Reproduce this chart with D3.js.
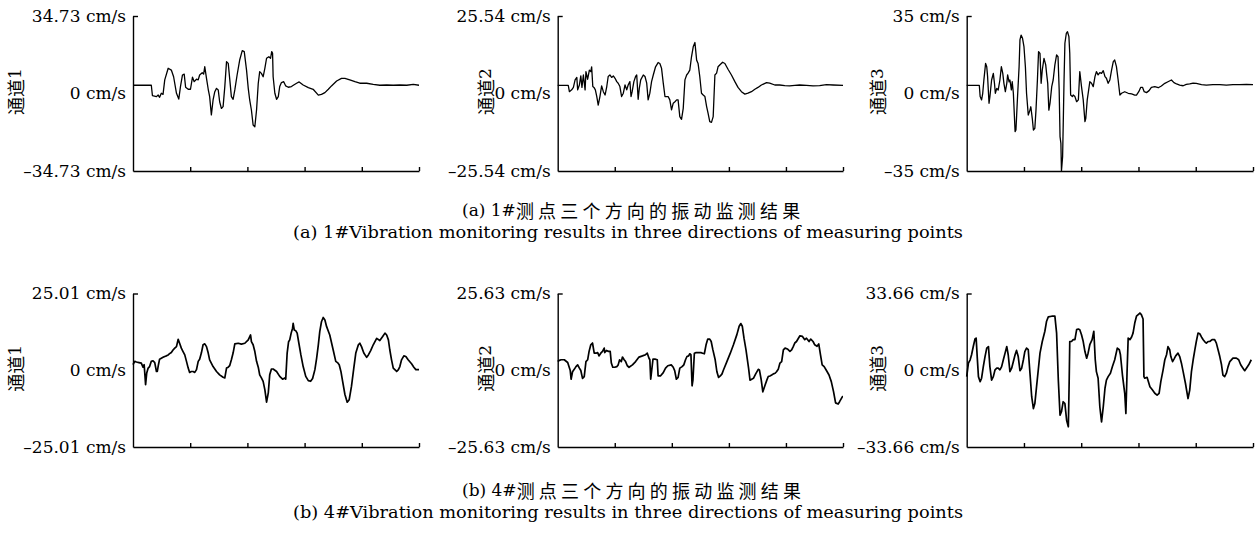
<!DOCTYPE html>
<html>
<head>
<meta charset="utf-8">
<script src="https://cdn.jsdelivr.net/npm/d3@7"></script>
<style>
  body { margin: 0; background: #fff; }
  svg { display: block; }
  text { font-family: "DejaVu Serif", "Noto Sans CJK SC", serif; fill: #000; }
</style>
</head>
<body>
<div id="wrapper"></div>
<script>
// time axis is 0..100 (% of record), velocity in cm/s

// (a) 1# measuring point
const p1Ch1 = [[0,3.7],[6.4,3.7],[6.8,-1.0],[8.2,-1.4],[8.8,-0.7],[9.3,-1.7],[9.9,0.1],[10.5,-0.4],[11.1,6.1],[12.3,11.3],[13.4,10.5],[14.2,7.5],[15.2,0.1],[16.0,-2.5],[16.6,3.1],[17.3,8.3],[17.9,8.7],[18.4,2.8],[19.3,1.9],[20.1,1.9],[20.8,7.3],[21.4,5.3],[22.2,6.4],[22.8,6.1],[23.3,8.3],[24.2,9.3],[24.7,8.7],[25.1,12.0],[25.7,6.8],[26.3,1.9],[26.8,-1.4],[27.4,-9.6],[28.0,-2.9],[28.6,0.8],[29.2,2.3],[29.8,1.6],[30.3,-3.7],[30.9,-6.7],[31.5,-5.9],[32.1,3.1],[32.7,14.3],[33.3,13.5],[33.8,6.8],[34.4,-1.4],[35.0,-2.6],[35.6,1.6],[36.4,8.3],[37.3,15.0],[38.2,19.2],[38.9,18.8],[39.7,10.5],[40.3,2.3],[40.8,-2.9],[41.4,-7.4],[42.0,-14.1],[42.6,-14.9],[43.2,-7.4],[43.8,4.6],[44.3,9.8],[44.9,9.0],[45.5,7.5],[46.1,11.3],[46.7,15.8],[47.5,16.5],[48.1,15.8],[48.5,18.8],[48.8,18.0],[49.0,7.5],[49.6,0.1],[50.2,-2.6],[50.8,-1.4],[51.3,3.1],[51.9,4.9],[52.7,5.3],[53.4,3.4],[54.3,2.8],[55.4,3.1],[56.2,3.8],[57.2,4.6],[58.1,5.2],[59.5,3.8],[61.3,2.6],[63.0,1.9],[64.8,-0.7],[65.9,-0.4],[67.1,0.4],[68.3,1.9],[69.4,3.4],[71.2,5.6],[72.9,6.8],[74.1,6.8],[75.8,6.1],[77.6,5.3],[79.3,4.6],[81.7,4.6],[84.0,4.1],[86.3,3.7],[88.7,3.8],[91.0,3.7],[93.3,3.8],[95.7,3.7],[98.0,4.1],[100,3.7]];

const p1Ch2 = [[0,2.7],[3.7,2.7],[4.1,0.6],[4.9,1.2],[5.5,2.0],[6.1,4.5],[6.7,5.3],[7.0,1.2],[7.6,2.8],[8.1,5.8],[8.5,2.0],[9.0,6.1],[9.6,1.2],[9.9,7.2],[10.5,4.7],[11.1,7.7],[11.6,7.2],[11.9,8.8],[12.3,2.3],[12.7,2.0],[13.2,1.2],[13.7,-1.0],[14.2,-3.8],[14.8,-1.0],[15.4,2.5],[16.0,0.6],[16.6,-0.5],[17.2,2.3],[17.7,5.6],[18.3,6.1],[18.9,5.3],[19.5,5.8],[20.1,5.0],[20.7,3.9],[21.2,3.4],[21.8,2.3],[22.4,-1.0],[23.0,0.1],[23.6,2.8],[24.2,1.2],[24.7,2.8],[25.3,3.9],[25.7,-1.0],[26.1,0.6],[26.7,3.9],[27.3,5.6],[27.7,6.1],[28.2,-1.9],[28.6,1.7],[29.1,4.5],[30.0,6.1],[30.6,5.6],[31.2,3.4],[31.7,-2.1],[32.3,0.1],[32.9,3.9],[33.5,6.1],[34.3,8.8],[35.2,10.2],[35.8,9.9],[36.4,8.3],[37.0,3.4],[37.6,-1.0],[38.2,-1.0],[38.7,-1.0],[39.3,-2.1],[39.9,-5.4],[40.5,-3.2],[41.1,-2.7],[41.7,-2.1],[42.2,-2.1],[42.8,-7.6],[43.4,-8.5],[44.0,-4.9],[44.6,4.5],[45.2,6.1],[45.7,6.7],[46.3,7.7],[46.9,12.1],[47.5,15.4],[48.1,16.8],[48.7,11.0],[49.2,9.9],[49.8,5.6],[50.4,0.1],[51.0,-0.5],[51.6,-1.0],[52.2,-4.3],[52.7,-6.5],[53.3,-9.3],[53.9,-9.5],[54.5,-7.6],[55.1,6.1],[55.7,6.7],[56.2,8.8],[56.8,9.4],[57.8,10.3],[58.6,9.9],[59.7,8.0],[60.9,6.1],[62.1,3.9],[63.2,2.0],[64.4,0.6],[65.6,-0.2],[66.7,0.1],[67.9,0.6],[69.1,1.4],[70.2,2.0],[71.4,2.8],[73.2,3.6],[74.3,3.4],[76.1,2.8],[77.8,2.8],[79.6,2.6],[81.3,2.5],[83.1,2.7],[84.8,2.8],[87.2,2.7],[89.5,2.5],[91.8,2.6],[94.2,2.9],[96.5,2.8],[100,2.7]];

const p1Ch3 = [[0,3.7],[4.4,3.7],[4.7,-1.4],[5.2,-2.9],[5.6,0.1],[6.0,6.1],[6.6,13.6],[7.0,12.1],[7.3,7.6],[7.8,-4.4],[8.1,-1.4],[8.7,6.1],[9.3,9.1],[9.7,4.6],[10.0,0.1],[10.5,2.3],[11.0,1.6],[11.6,6.1],[12.1,12.1],[12.6,9.1],[13.0,4.6],[13.5,0.8],[14.0,4.6],[14.3,8.4],[14.8,5.3],[15.1,6.1],[15.6,1.6],[15.9,5.3],[16.3,0.1],[16.9,-17.2],[17.2,-16.5],[17.7,-2.9],[18.3,12.1],[18.6,24.2],[19.0,26.4],[19.5,24.9],[20.0,21.2],[20.5,12.1],[20.9,0.1],[21.5,-9.7],[22.1,-7.5],[22.4,-6.0],[22.9,-11.2],[23.3,-16.5],[23.8,-15.7],[24.2,-7.5],[24.7,6.1],[25.1,18.9],[25.6,18.1],[26.0,4.6],[26.4,10.6],[27.0,15.9],[27.6,12.9],[27.9,9.1],[28.3,4.6],[28.7,-7.5],[29.1,-4.4],[29.7,3.1],[30.2,6.1],[30.8,12.9],[31.4,17.4],[31.9,16.6],[32.3,1.6],[32.6,-19.5],[32.9,-22.5],[33.1,-35],[33.5,-28.5],[33.7,-15.0],[34.0,6.1],[34.3,22.7],[34.8,27.2],[35.2,27.9],[35.7,25.7],[36.0,18.1],[36.3,-0.7],[36.9,-1.4],[37.2,-0.7],[37.8,-1.4],[38.4,-3.7],[39.0,-2.9],[39.5,9.9],[40.1,3.1],[40.7,-2.9],[41.3,-12.7],[41.6,-11.2],[42.1,-2.9],[42.6,1.6],[43.0,5.3],[43.6,4.6],[44.2,3.1],[44.8,7.6],[45.3,9.9],[45.9,8.4],[46.5,9.4],[47.1,9.1],[47.7,10.3],[48.3,7.6],[48.8,6.9],[49.4,4.6],[50.0,6.1],[50.6,10.6],[51.2,14.4],[51.7,15.1],[52.3,12.1],[52.9,6.1],[53.5,-0.7],[54.1,0.1],[55.2,0.8],[56.4,0.1],[57.6,-0.2],[58.7,-0.7],[59.3,-0.7],[60.1,0.8],[60.8,2.8],[61.4,2.8],[62.0,0.8],[62.8,0.4],[63.7,1.3],[64.5,2.8],[65.7,3.1],[66.9,2.6],[68.0,3.4],[69.2,4.6],[70.3,5.3],[71.5,6.1],[72.4,4.9],[73.3,4.3],[74.4,3.8],[75.6,3.5],[76.7,4.1],[77.9,4.3],[79.1,4.7],[80.2,4.6],[82.0,4.0],[83.7,3.8],[86.0,4.0],[88.4,4.0],[90.7,3.8],[93.0,4.0],[95.3,4.0],[97.7,4.1],[100,4.0]];

// (b) 4# measuring point
const p4Ch1 = [[0,1.8],[0.6,2.9],[1.2,2.7],[2.1,2.5],[2.9,2.3],[3.5,1.0],[3.9,1.8],[4.2,-2.0],[4.4,-4.7],[4.8,-0.9],[5.3,0.7],[5.8,1.2],[6.4,2.9],[7.0,3.1],[7.6,2.5],[8.2,-0.4],[8.5,-0.4],[8.9,1.8],[9.3,3.6],[9.9,3.9],[10.5,4.2],[11.1,4.5],[11.7,4.7],[12.3,5.0],[12.8,5.4],[13.4,5.8],[14.0,6.6],[14.6,7.2],[15.2,7.7],[15.8,10.1],[16.3,8.8],[16.9,7.2],[17.5,6.1],[18.1,5.0],[18.7,2.9],[19.3,0.7],[19.8,-0.7],[20.4,-0.4],[21.0,-0.4],[21.6,-0.7],[22.2,0.2],[22.8,2.9],[23.3,3.6],[23.9,5.6],[24.5,8.3],[25.1,8.6],[25.7,7.7],[26.3,5.6],[26.8,3.4],[28.0,1.2],[29.2,-0.4],[30.3,-1.5],[31.5,-2.3],[32.1,-2.5],[32.7,0.7],[33.3,1.0],[33.8,1.5],[34.4,3.4],[35.0,5.6],[35.6,8.6],[36.8,8.8],[37.9,8.5],[39.1,8.8],[40.3,9.9],[41.1,11.5],[41.4,9.3],[42.0,8.3],[42.6,6.1],[43.2,2.9],[43.8,1.0],[44.3,-1.5],[44.9,-2.5],[45.5,-3.6],[46.1,-6.3],[46.7,-10.4],[47.3,-7.4],[47.8,-1.5],[48.4,0.4],[49.0,0.4],[49.6,0.0],[50.2,-0.4],[51.3,-2.0],[52.3,-2.9],[53.1,-2.5],[53.4,-2.9],[53.9,5.6],[54.4,9.3],[54.8,9.9],[55.3,12.1],[55.8,13.7],[56.0,15.3],[56.4,13.1],[56.9,12.9],[57.4,12.1],[58.0,8.8],[58.7,5.0],[59.5,1.2],[60.4,-2.0],[61.3,-3.4],[62.1,-3.6],[62.8,-2.7],[63.6,0.2],[64.2,3.9],[64.8,8.3],[65.3,12.6],[65.9,15.8],[66.5,17.2],[67.1,16.4],[67.7,14.2],[68.8,11.5],[70.0,6.6],[70.9,2.9],[71.5,2.5],[72.1,1.8],[72.7,-0.4],[73.3,-3.6],[74.1,-7.9],[74.9,-10.4],[75.6,-9.6],[76.4,-5.2],[77.2,0.7],[77.9,5.6],[78.8,8.3],[79.3,8.8],[79.9,7.7],[80.7,5.6],[81.7,4.2],[82.3,5.0],[83.1,6.4],[84.0,8.3],[85.2,10.4],[86.3,9.7],[87.3,11.0],[88.1,12.1],[88.7,11.5],[89.3,9.9],[89.8,6.6],[90.4,3.4],[91.0,0.7],[92.2,-0.4],[92.8,0.2],[93.3,1.2],[93.9,3.4],[94.7,4.7],[95.4,4.5],[96.2,3.4],[97.4,2.1],[98.2,1.0],[98.9,0.2],[100,0.2]];

const p4Ch2 = [[0,2.9],[0.6,3.3],[1.2,3.5],[2.3,3.5],[3.5,2.6],[4.4,-0.1],[4.7,-3.0],[5.2,-0.5],[5.8,0.3],[6.4,1.2],[7.0,1.8],[7.6,0.7],[8.1,-0.1],[8.7,-2.7],[9.3,-2.1],[9.9,2.9],[10.5,3.5],[11.0,6.3],[11.6,8.5],[12.2,9.1],[12.8,5.7],[13.4,5.7],[14.0,5.9],[14.5,4.8],[15.1,5.7],[15.7,6.3],[16.3,7.4],[16.5,5.9],[17.1,6.6],[17.8,6.3],[18.4,6.3],[18.8,2.4],[19.3,1.0],[20.0,1.0],[20.7,1.2],[21.2,1.8],[21.7,3.5],[22.3,2.9],[22.7,4.4],[23.3,3.5],[23.8,2.9],[24.4,1.5],[25.0,1.0],[26.2,1.8],[27.3,2.9],[28.5,4.4],[29.7,4.8],[30.8,5.2],[31.4,5.7],[32.0,4.0],[32.3,3.5],[32.6,-3.0],[32.9,-0.5],[33.4,3.7],[34.1,3.7],[34.9,3.5],[35.2,-1.9],[36.0,-1.9],[37.0,-0.8],[37.8,0.7],[38.6,1.5],[39.8,1.8],[40.5,1.0],[41.0,-0.1],[41.6,-3.0],[42.2,-2.4],[42.8,0.7],[43.6,1.2],[44.2,1.8],[44.8,3.5],[45.3,4.6],[45.9,4.8],[46.3,5.5],[46.7,5.2],[47.1,-5.2],[47.4,-3.3],[47.9,5.7],[48.5,5.9],[49.4,5.9],[50.2,5.9],[50.8,5.7],[51.4,5.5],[52.0,8.5],[52.6,10.4],[53.3,10.4],[53.8,9.6],[54.4,6.8],[55.2,3.5],[55.8,-0.5],[56.4,-2.4],[57.0,-1.9],[57.6,-1.2],[58.1,0.1],[59.3,2.9],[60.5,5.7],[61.6,8.5],[62.8,11.9],[63.6,14.7],[64.2,15.6],[64.7,14.7],[65.3,10.7],[66.0,6.8],[66.9,0.7],[67.4,-3.3],[68.0,-3.0],[68.6,-2.7],[69.4,-1.2],[70.3,0.3],[70.7,0.1],[71.3,-3.0],[71.9,-7.2],[72.7,-4.9],[73.3,-3.3],[73.8,-2.1],[74.4,-1.9],[75.0,-1.6],[75.6,-1.2],[76.2,-1.0],[76.7,-0.5],[77.3,0.3],[77.9,2.4],[78.5,2.9],[79.1,6.8],[79.7,7.4],[80.5,7.1],[81.4,6.3],[82.0,6.8],[82.6,8.0],[83.1,9.1],[83.7,9.6],[84.9,11.5],[85.8,11.3],[86.6,10.2],[87.2,10.7],[88.1,9.6],[88.7,10.4],[89.5,9.6],[90.1,8.5],[90.9,8.0],[91.5,8.8],[92.1,5.2],[92.7,1.8],[93.4,1.2],[94.2,-0.1],[95.1,-1.6],[95.9,-3.8],[96.7,-7.2],[97.4,-10.9],[98.3,-11.3],[98.8,-10.5],[99.8,-8.8],[100,-8.8]];

const p4Ch3 = [[0,-2.8],[0.6,3.1],[1.2,4.6],[1.7,6.8],[2.3,10.4],[2.9,13.7],[3.3,14.1],[3.7,5.3],[4.1,-2.8],[4.7,-5.0],[5.2,-3.5],[5.8,1.6],[6.4,6.0],[7.0,9.7],[7.6,10.4],[8.1,1.6],[8.7,-4.3],[9.3,-2.8],[9.9,0.2],[10.5,0.9],[11.0,0.9],[11.6,0.2],[12.2,1.6],[12.8,4.6],[13.4,7.5],[14.0,10.4],[14.5,6.8],[15.1,-0.6],[15.7,0.9],[16.3,3.8],[16.9,6.8],[17.4,8.7],[18.0,6.0],[18.6,-0.2],[19.2,0.9],[19.8,4.6],[20.3,8.2],[20.9,9.7],[21.5,9.0],[22.1,-1.3],[22.7,-11.6],[23.3,-16.8],[23.8,-14.6],[24.4,-7.2],[25.0,0.2],[25.6,7.5],[26.4,12.6],[27.3,17.1],[27.9,21.5],[28.5,23.4],[29.7,23.7],[30.8,23.7],[31.4,16.3],[32.0,-4.3],[32.6,-19.7],[33.1,-18.2],[33.7,-13.8],[34.3,-14.6],[34.9,-21.9],[35.5,-24.8],[35.8,-4.3],[36.0,12.6],[36.6,12.6],[37.2,13.4],[37.8,13.4],[38.4,17.8],[39.0,18.1],[39.5,17.8],[40.1,15.6],[40.7,12.6],[41.3,8.2],[41.9,5.3],[42.4,7.5],[43.0,11.2],[43.8,13.4],[44.4,17.1],[44.9,4.6],[45.3,-0.6],[45.9,-3.5],[46.5,-16.0],[47.1,-22.6],[47.7,-16.0],[48.3,-7.9],[48.8,-4.3],[49.4,-2.8],[50.2,-1.3],[50.9,1.6],[51.7,4.6],[52.6,9.7],[53.3,9.0],[53.7,6.8],[54.4,-2.1],[55.2,-10.1],[55.6,-19.0],[56.0,-1.3],[56.4,14.1],[57.0,13.4],[57.6,14.6],[58.1,16.3],[58.7,20.7],[59.3,23.7],[59.9,24.4],[60.5,25.1],[61.0,24.4],[61.6,22.5],[61.9,-2.8],[62.2,-3.5],[63.0,-3.1],[64.0,-7.2],[64.9,-8.7],[65.7,-10.1],[66.5,-10.9],[67.2,-10.1],[67.8,-5.0],[68.6,0.2],[69.2,4.6],[69.8,6.8],[70.3,10.4],[70.9,9.0],[71.3,6.0],[71.9,3.8],[72.4,4.9],[73.0,6.3],[73.8,7.5],[74.4,6.0],[75.0,3.1],[75.6,-0.6],[76.4,-5.7],[77.3,-12.4],[77.9,-8.7],[78.5,-0.6],[79.1,4.6],[79.7,9.0],[80.2,12.6],[80.8,16.3],[81.4,16.0],[82.0,14.6],[82.6,13.4],[83.1,12.6],[83.7,11.9],[84.3,12.6],[84.9,12.6],[85.7,13.4],[86.6,13.4],[87.2,11.9],[87.8,9.0],[88.4,6.0],[89.0,2.4],[89.5,-2.1],[90.1,-2.8],[90.7,-1.3],[91.3,1.6],[91.9,3.8],[93.0,5.3],[94.2,5.3],[95.0,4.6],[95.7,2.4],[96.5,0.9],[97.1,-0.2],[97.7,0.9],[98.5,2.4],[99.4,4.6]];

const channelNames = ["通道", "通道", "通道"];
const channelNums = ["1", "2", "3"];
const row1Max = [34.73, 25.54, 35];
const row4Max = [25.01, 25.63, 33.66];
const row1Series = [p1Ch1, p1Ch2, p1Ch3];
const row4Series = [p4Ch1, p4Ch2, p4Ch3];
const captionsPrefix = ["(a) 1#", "(b) 4#"];
const captionsCn = ["测点三个方向的振动监测结果", "测点三个方向的振动监测结果"];
const captionsEn = [
  "(a) 1#Vibration monitoring results in three directions of measuring points",
  "(b) 4#Vibration monitoring results in three directions of measuring points",
];
const xTicks = [20, 40, 60, 80, 100];

// layout
const width = 1259;
const height = 534;
const rows = [
  { top: 16, bottom: 171, maxes: row1Max, series: row1Series, capCn: 209.5, capEn: 232 },
  { top: 293.5, bottom: 447, maxes: row4Max, series: row4Series, capCn: 489.5, capEn: 512 },
];
const cols = [
  { left: 133, right: 419, labelX: 15 },
  { left: 557.7, right: 843, labelX: 485 },
  { left: 966.7, right: 1253, labelX: 877 },
];

const svg = d3.select("#wrapper")
  .append("svg")
  .attr("width", width)
  .attr("height", height)

const fmt = v => (v < 0 ? "\u2013" : "") + Math.abs(v) + " cm/s"

rows.forEach((row, ri) => {
  cols.forEach((col, ci) => {
    const max = row.maxes[ci]
    const data = row.series[ci]

    const xScale = d3.scaleLinear()
      .domain([0, 100])
      .range([col.left, col.right])

    const yScale = d3.scaleLinear()
      .domain([-max, max])
      .range([row.bottom, row.top])

    const g = svg.append("g")

    // x axis, ticks pointing up
    g.append("g")
      .attr("transform", `translate(0,${row.bottom})`)
      .call(d3.axisBottom(xScale)
        .tickValues(xTicks)
        .tickSizeInner(-4)
        .tickSizeOuter(0)
        .tickFormat(""))
      .call(a => a.selectAll("path, line").attr("stroke", "#000").attr("stroke-width", 1.4))

    // y axis, only the top tick drawn (to the right)
    g.append("g")
      .attr("transform", `translate(${col.left},0)`)
      .call(d3.axisLeft(yScale)
        .tickValues([max, 0, -max])
        .tickSize(0)
        .tickPadding(7)
        .tickFormat(fmt))
      .call(a => a.selectAll("path, line").attr("stroke", "#000").attr("stroke-width", 1.4))
      .call(a => a.selectAll(".tick line").attr("x2", d => d === max ? 5 : 0))
      .call(a => a.selectAll("text")
        .attr("font-family", "DejaVu Serif")
        .attr("font-size", 17)
        .attr("fill", "#000"))

    const lbl = g.append("text")
      .attr("transform", `translate(${col.labelX},${(row.top + row.bottom) / 2 - 2}) rotate(-90)`)
      .attr("text-anchor", "middle")
      .attr("dominant-baseline", "central")
    lbl.append("tspan")
      .attr("font-family", "Noto Sans CJK SC")
      .attr("font-size", 18)
      .text(channelNames[ci])
    lbl.append("tspan")
      .attr("font-size", 17)
      .text(channelNums[ci])

    const line = d3.line()
      .x(d => xScale(d[0]))
      .y(d => yScale(d[1]))

    g.append("path")
      .datum(data)
      .attr("d", line)
      .attr("fill", "none")
      .attr("stroke", "#000")
      .attr("stroke-width", ri === 0 ? 1.3 : 1.7)
      .attr("stroke-linejoin", "round")
  })

  const cap = svg.append("text")
    .attr("x", 462)
    .attr("y", row.capCn)
    .attr("dominant-baseline", "central")
  cap.append("tspan")
    .attr("font-size", 17)
    .text(captionsPrefix[ri])
  cap.append("tspan")
    .attr("font-family", "Noto Sans CJK SC")
    .attr("font-size", 18)
    .attr("letter-spacing", 4.2)
    .text(captionsCn[ri])

  svg.append("text")
    .attr("x", 628)
    .attr("y", row.capEn)
    .attr("text-anchor", "middle")
    .attr("dominant-baseline", "central")
    .attr("font-size", 16)
    .attr("textLength", 670)
    .attr("lengthAdjust", "spacingAndGlyphs")
    .text(captionsEn[ri])
})
</script>
</body>
</html>
